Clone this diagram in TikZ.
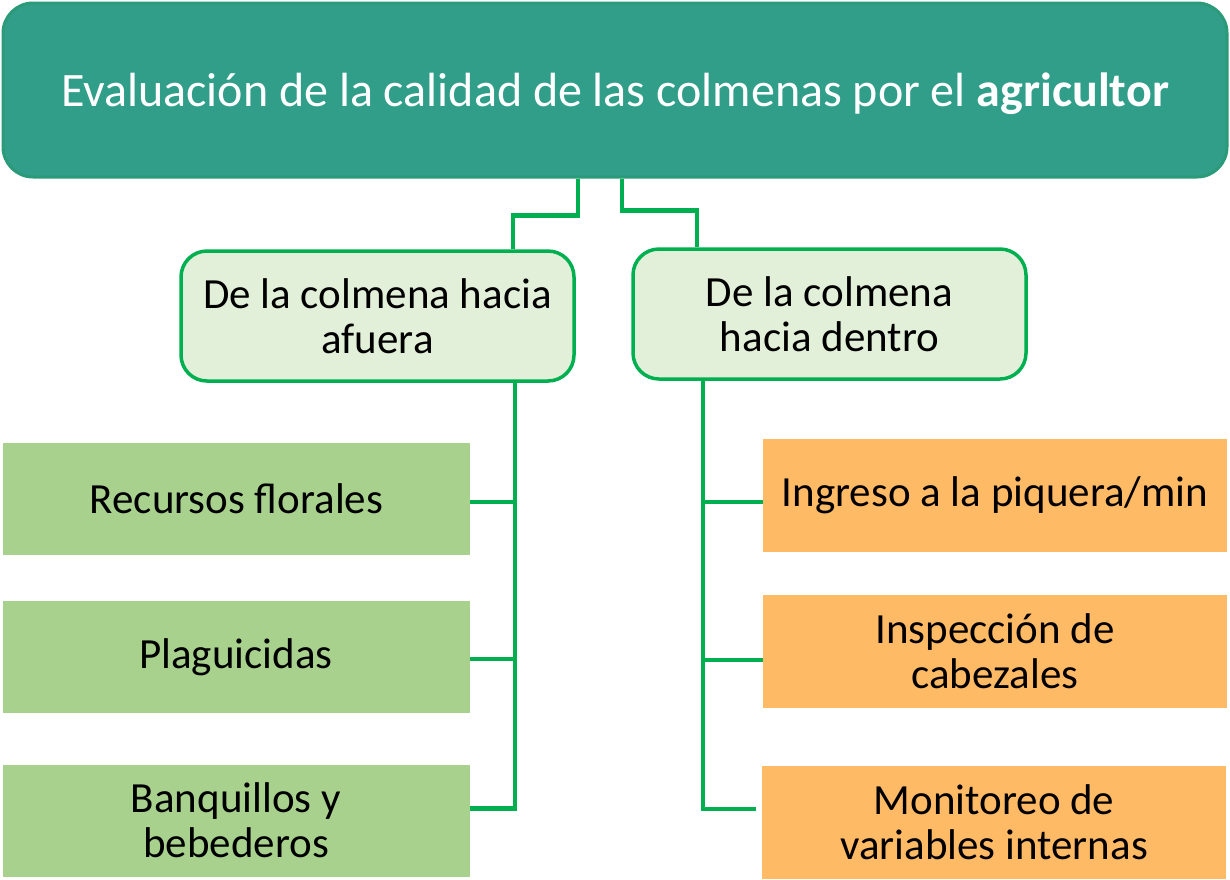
\documentclass[tikz,border=0pt]{standalone}
\usepackage{fontspec}
\setmainfont{Carlito}
\definecolor{teal}{HTML}{319E8A}
\definecolor{tealedge}{HTML}{2B9A78}
\definecolor{linegreen}{HTML}{00B050}
\definecolor{palegreen}{HTML}{E2EFD9}
\definecolor{leafgreen}{HTML}{A9D18E}
\definecolor{orangebox}{HTML}{FFBA66}
\tikzset{
  x=1pt,y=-1pt,
  titlebox/.style={draw=tealedge, line width=3pt, fill=teal, rounded corners=30pt, text=white,
    minimum width=1224pt, minimum height=174pt, font=\fontsize{48}{56}\selectfont, inner sep=0pt},
  midbox/.style={draw=linegreen, line width=3.5pt, fill=palegreen, rounded corners=26pt,
    minimum width=393pt, minimum height=130pt, align=center, font=\fontsize{43}{45}\selectfont, inner sep=0pt},
  leafbox/.style={fill=leafgreen, minimum width=467pt, minimum height=112pt, align=center,
    font=\fontsize{43}{45}\selectfont, inner sep=0pt},
  orbox/.style={fill=orangebox, minimum width=464pt, minimum height=113pt, align=center,
    font=\fontsize{43}{45}\selectfont, inner sep=0pt},
  conn/.style={draw=linegreen, line width=4.5pt}
}
\begin{document}
\begin{tikzpicture}
\useasboundingbox (0,0) rectangle (1230,879);
\fill[white] (0,0) rectangle (1230,879);
\node[titlebox] (top) at (615,90) {\raisebox{-4pt}[\height][\depth]{Evaluación de la calidad de las colmenas por el \textbf{agricultor}}};
\node[midbox] (mid1) at (377.5,316) {De la colmena hacia\\afuera};
\node[midbox] (mid2) at (829.5,314) {De la colmena\\hacia dentro};
\node[leafbox] (L1) at (236.5,499) {Recursos florales};
\node[leafbox] (L2) at (236,657) {Plaguicidas};
\node[leafbox] (L3) at (236,820.5) {Banquillos y\\bebederos};
\node[orbox] (R1) at (995,495.5) {Ingreso a la piquera/min};
\node[orbox] (R2) at (995,651) {Inspección de\\cabezales};
\node[orbox] (R3) at (994,822) {Monitoreo de\\variables internas};
\coordinate (ls) at ([xshift=137.5pt]mid1.south);
\coordinate (rs) at ([xshift=-126.5pt]mid2.south);
\draw[conn] ([xshift=-37pt]top.south) -- ++(0,37) -| ([xshift=135.5pt]mid1.north);
\draw[conn] ([xshift=7pt]top.south) -- ++(0,32) -| ([xshift=-132.5pt]mid2.north);
\draw[conn] (ls) |- ([yshift=12pt]L3.east);
\draw[conn] ([yshift=-3pt]L1.east) -- ([yshift=-3pt]L1.east -| ls);
\draw[conn] ([yshift=-2pt]L2.east) -- ([yshift=-2pt]L2.east -| ls);
\draw[conn] (rs) |- ([xshift=-6pt,yshift=13pt]R3.west);
\draw[conn] ([yshift=-6.5pt]R1.west) -- ([yshift=-6.5pt]R1.west -| rs);
\draw[conn] ([yshift=-9pt]R2.west) -- ([yshift=-9pt]R2.west -| rs);
\end{tikzpicture}
\end{document}
